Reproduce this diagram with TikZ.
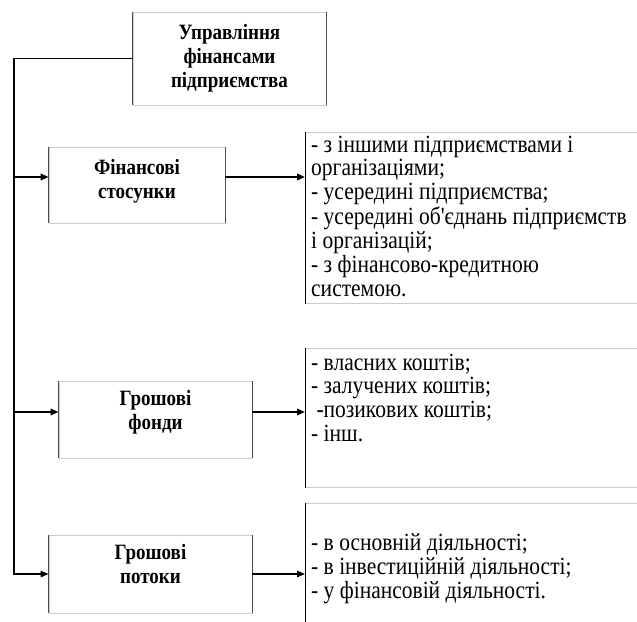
\documentclass[tikz,border=0pt]{standalone}
\usepackage{fontspec}
\usepackage{graphicx}
\setmainfont{Liberation Serif}
\usetikzlibrary{arrows.meta,positioning}

% text a little taller than wide, as in the scan
\newcommand{\tallbox}[2]{\scalebox{1}[1.15]{\begin{tabular}{@{}#1@{}}#2\end{tabular}}}

\tikzset{
  box/.style={draw=black!20, line width=0.8pt, inner sep=0pt},
  side/.style={draw=black!70, line width=1pt},
  lbl/.style={font=\bfseries\fontsize{19}{21}\selectfont, inner sep=0pt},
  items/.style={font=\fontsize{21.5}{20.7}\selectfont, inner sep=0pt},
  arr/.style={-{Triangle[length=8pt,width=6.5pt]}, line width=1.8pt},
  arrthin/.style={-{Triangle[length=8pt,width=6.5pt]}, line width=1.2pt},
}

\begin{document}
\begin{tikzpicture}[x=1pt,y=-1pt]
\useasboundingbox (0,0) rectangle (637,621);
\clip (0,0) rectangle (637,621);

% left blocks
\node[box, minimum width=193pt, minimum height=93pt] (upr) at (229.5,58.5) {};
\node[box, minimum width=176pt, minimum height=76pt] (fin) at (137,185) {};
\node[box, minimum width=193pt, minimum height=77pt] (fondy) at (155.5,419.5) {};
\node[box, minimum width=203pt, minimum height=78pt] (potoky) at (150.5,574) {};

\node[lbl, below=10.5pt of upr.north] (upr-t) {\tallbox{c}{Управління\\фінансами\\підприємства}};
\node[lbl, below=10.5pt of fin.north] (fin-t) {\tallbox{c}{Фінансові\\стосунки}};
\node[lbl, below=7.5pt of fondy.north] (fondy-t) {\tallbox{c}{Грошові\\фонди}};
\node[lbl, below=7.5pt of potoky.north] (potoky-t) {\tallbox{c}{Грошові\\потоки}};

% right blocks
\node[box, anchor=north west, minimum width=400pt, minimum height=171pt] (r1) at (305,132) {};
\node[box, anchor=north west, minimum width=400pt, minimum height=139pt] (r2) at (305,348) {};
\node[box, anchor=north west, minimum width=400pt, minimum height=140pt] (r3) at (305,503) {};

\node[items, anchor=north west] (r1-t) at ([xshift=6pt,yshift=-3.3pt]r1.north west)
  {\tallbox{l}{- з іншими підприємствами і\\організаціями;\\- усередині підприємства;\\- усередині об\textquotesingle єднань підприємств\\і організацій;\\- з фінансово-кредитною\\системою.}};
\node[items, anchor=north west] (r2-t) at ([xshift=6pt,yshift=-5.3pt]r2.north west)
  {\tallbox{l}{- власних коштів;\\- залучених коштів;\\\ -позикових коштів;\\- інш.}};
\node[items, anchor=north west] (r3-t) at ([xshift=6pt,yshift=-30.3pt]r3.north west)
  {\tallbox{l}{- в основній діяльності;\\- в інвестиційній діяльності;\\- у фінансовій діяльності.}};

% darker vertical edges
\foreach \b in {upr,fin,fondy,potoky}
  \draw[side] (\b.north west) -- (\b.south west) (\b.north east) -- (\b.south east);
\foreach \b in {r1,r2,r3}
  \draw[side, draw=black] (\b.north west) -- (\b.south west);

% connectors
\coordinate (s1) at (14,177);
\coordinate (s2) at (14,412);
\coordinate (s3) at (14,574);
\draw[arrthin] (upr.west) -| (s3) -- (potoky.west);
\draw[arr] (s1) -- (fin.west |- s1);
\draw[arr] (fin.east |- s1) -- (r1.west |- s1);
\draw[arr] (s2) -- (fondy.west |- s2);
\draw[arr] (fondy.east |- s2) -- (r2.west |- s2);
\draw[arrthin] (potoky.east) -- (r3.west |- potoky.east);
\end{tikzpicture}
\end{document}
